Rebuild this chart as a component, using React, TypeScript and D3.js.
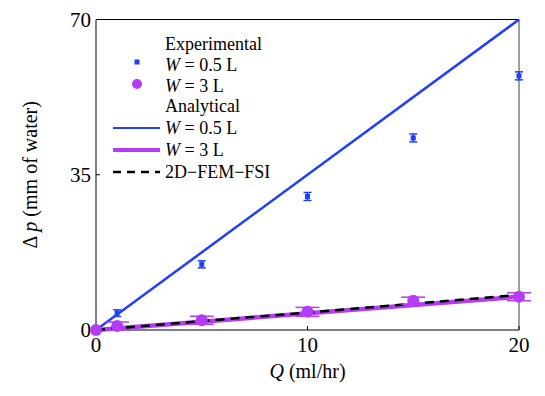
import React from 'react';
import * as d3 from 'd3';

// experimental points
const qExp = [0, 1, 5, 10, 15, 20];
const dpExpNarrow = [0, 3.8, 14.8, 30.1, 43.3, 57.3];
const errExpNarrow = [0, 0.75, 0.8, 0.9, 0.9, 0.9];
const dpExpWide = [0, 0.9, 2.2, 4.1, 6.6, 7.5];
const errExpWide = [0, 0.9, 0.9, 1.0, 0.8, 0.9];

// analytical + simulation lines
const qLine = [0, 20];
const dpAnaNarrow = [0, 70];
const dpAnaWide = [0, 7.5];
const dpFem = [0, 7.9];

const xTicks = [0, 10, 20];
const yTicks = [0, 35, 70];

const BLUE = '#1f3fff';
const PURPLE = '#b43cf5';
const FONT = 'Liberation Serif, DejaVu Serif, serif';

export default function App() {
  const W = 545;
  const H = 396;
  const margin = { top: 19.5, right: 26, bottom: 66, left: 96 };

  const x = d3.scaleLinear().domain([0, 20]).range([margin.left, W - margin.right]);
  const y = d3.scaleLinear().domain([0, 70]).range([H - margin.bottom, margin.top]);

  const line = d3
    .line<[number, number]>()
    .x(d => x(d[0]))
    .y(d => y(d[1]));

  const pts = (ys: number[]) => qLine.map((q, i) => [q, ys[i]] as [number, number]);

  const x0 = x(0), x1 = x(20), y0 = y(0), y1 = y(70);

  // legend
  const lgX = 165;
  const lgRows = [50, 71, 92, 112, 134, 156, 178];

  return (
    <svg width={W} height={H} style={{ position: 'absolute', left: 0, top: 0, background: '#fff' }}>
      <g fontFamily={FONT} fill="#000">
      {/* frame */}
      <line x1={x0} y1={y1} x2={x1} y2={y1} stroke="#000" strokeWidth={1} />
      <line x1={x0} y1={y0} x2={x1} y2={y0} stroke="#000" strokeWidth={1} />
      <line x1={x0} y1={y0} x2={x0} y2={y1} stroke="#000" strokeWidth={1} />
      <line x1={x1} y1={y0} x2={x1} y2={y1} stroke="#808080" strokeWidth={1.5} />

      {/* ticks */}
      {xTicks.map(t => (
        <g key={'x' + t}>
          <line x1={x(t)} x2={x(t)} y1={y0} y2={y0 - 4} stroke="#000" />
          <text x={x(t)} y={y0 + 22} fontSize={21} fontFamily={FONT} textAnchor="middle">{t}</text>
        </g>
      ))}
      {yTicks.map(t => (
        <g key={'y' + t}>
          <line x1={x0} x2={x0 + 4} y1={y(t)} y2={y(t)} stroke="#000" />
          <text x={x0 - 5} y={y(t) + 7} fontSize={21} fontFamily={FONT} textAnchor="end">{t}</text>
        </g>
      ))}

      {/* axis labels */}
      <text x={(x0 + x1) / 2} y={378} fontSize={20} fontFamily={FONT} textAnchor="middle">
        <tspan fontStyle="italic">Q</tspan> (ml/hr)
      </text>
      <text transform={`translate(37,${(y0 + y1) / 2}) rotate(-90)`} fontSize={20} fontFamily={FONT} textAnchor="middle">
        Δ <tspan fontStyle="italic">p</tspan> (mm of water)
      </text>

      {/* lines */}
      <path d={line(pts(dpAnaNarrow)) ?? ''} fill="none" stroke={BLUE} strokeWidth={2.5} />
      <path d={line(pts(dpAnaWide)) ?? ''} fill="none" stroke={PURPLE} strokeWidth={4.5} />
      <path d={line(pts(dpFem)) ?? ''} fill="none" stroke="#000" strokeWidth={2.5} strokeDasharray="9,6" />

      {/* experimental W = 0.5 L */}
      {qExp.map((q, i) => {
        const cx = x(q);
        const hi = y(dpExpNarrow[i] + errExpNarrow[i]);
        const lo = y(dpExpNarrow[i] - errExpNarrow[i]);
        return (
          <g key={'n' + i} stroke={BLUE} fill={BLUE}>
            <line x1={cx} x2={cx} y1={hi} y2={lo} strokeWidth={1.5} />
            <line x1={cx - 4} x2={cx + 4} y1={hi} y2={hi} strokeWidth={1.5} />
            <line x1={cx - 4} x2={cx + 4} y1={lo} y2={lo} strokeWidth={1.5} />
            <rect x={cx - 2.5} y={y(dpExpNarrow[i]) - 2.5} width={5} height={5} stroke="none" />
          </g>
        );
      })}

      {/* experimental W = 3 L */}
      {qExp.map((q, i) => {
        const cx = x(q);
        const hi = y(dpExpWide[i] + errExpWide[i]);
        const lo = y(dpExpWide[i] - errExpWide[i]);
        return (
          <g key={'w' + i} stroke={PURPLE} fill={PURPLE}>
            {i > 0 && (
              <>
                <line x1={cx} x2={cx} y1={hi} y2={lo} strokeWidth={1.5} />
                <line x1={cx - 12} x2={cx + 12} y1={hi} y2={hi} strokeWidth={1.5} />
                <line x1={cx - 12} x2={cx + 12} y1={lo} y2={lo} strokeWidth={1.5} />
              </>
            )}
            <circle cx={cx} cy={y(dpExpWide[i])} r={6} stroke="none" />
          </g>
        );
      })}

      {/* legend */}
      <g fontSize={18} fontFamily={FONT}>
        <text x={lgX} y={lgRows[0]}>Experimental</text>
        <rect x={134.5} y={lgRows[1] - 11.5} width={5} height={5} fill={BLUE} />
        <text x={lgX} y={lgRows[1]}><tspan fontStyle="italic">W</tspan> = 0.5 L</text>
        <circle cx={137} cy={lgRows[2] - 8} r={5} fill={PURPLE} />
        <text x={lgX} y={lgRows[2]}><tspan fontStyle="italic">W</tspan> = 3 L</text>
        <text x={lgX} y={lgRows[3]}>Analytical</text>
        <line x1={113} x2={160} y1={lgRows[4] - 6} y2={lgRows[4] - 6} stroke={BLUE} strokeWidth={2} />
        <text x={lgX} y={lgRows[4]}><tspan fontStyle="italic">W</tspan> = 0.5 L</text>
        <line x1={113} x2={160} y1={lgRows[5] - 6} y2={lgRows[5] - 6} stroke={PURPLE} strokeWidth={4} />
        <text x={lgX} y={lgRows[5]}><tspan fontStyle="italic">W</tspan> = 3 L</text>
        <line x1={113} x2={160} y1={lgRows[6] - 6} y2={lgRows[6] - 6} stroke="#000" strokeWidth={2.5} strokeDasharray="8,6" />
        <text x={lgX} y={lgRows[6]}>2D−FEM−FSI</text>
      </g>
      </g>
    </svg>
  );
}
